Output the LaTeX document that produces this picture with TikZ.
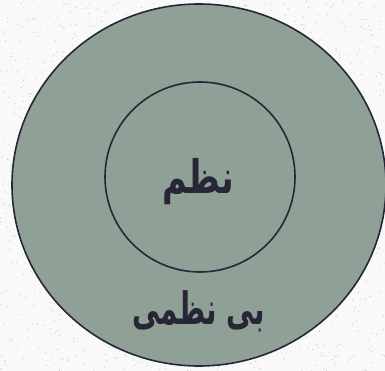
\documentclass[tikz,border=0pt]{standalone}
\usepackage{fontspec}
\newfontfamily\arabicfont[Script=Arabic,BoldFont={DejaVu Sans Bold}]{DejaVu Sans}
\TeXXeTstate=1
\definecolor{discfill}{RGB}{143,161,151}
\definecolor{inkcol}{RGB}{38,38,54}

\begin{document}
\begin{tikzpicture}[x=1pt,y=-1pt]
	\tikzset{disc/.style={fill=discfill,draw=inkcol,line width=1.6pt},
		farsi/.style={text=inkcol,font=\arabicfont\bfseries\fontsize{33}{40}\selectfont}}
	\useasboundingbox (0,0) rectangle (385,371);
	% textured paper
	\fill[gray!5] (0,0) rectangle (385,371);
	\pgfmathsetseed{7}
	\foreach \i in {1,...,1600}{
		\pgfmathsetmacro{\px}{rnd*385}
		\pgfmathsetmacro{\py}{rnd*371}
		\fill[gray!45] (\px,\py) circle (0.6);
	}
	\begin{scope}
		\clip (0,0) rectangle (385,371);
		\draw[disc] (199,185) ellipse [x radius=187,y radius=181];
	\end{scope}
	\draw[disc] (200,177) circle (95);
	\node[farsi] (order) at (198,182) {\scalebox{1.02}[1.4]{\beginR نظم\endR}};
	\node[farsi] (disorder) at (199,311) {\scalebox{0.84}[1.35]{\beginR بی نظمی\endR}};
\end{tikzpicture}
\end{document}
